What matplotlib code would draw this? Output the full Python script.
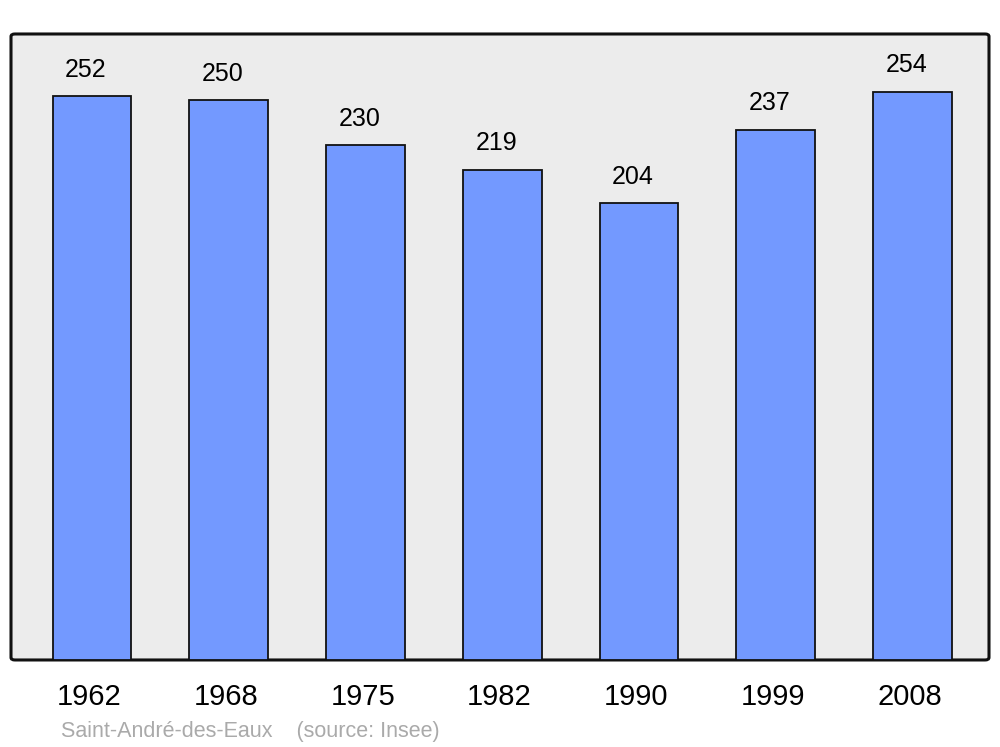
import matplotlib.pyplot as plt
from matplotlib.patches import FancyBboxPatch

years = ['1962', '1968', '1975', '1982', '1990', '1999', '2008']
population = [252, 250, 230, 219, 204, 237, 254]

plt.rcParams['font.family'] = ['Liberation Sans', 'DejaVu Sans']

fig = plt.figure(figsize=(10, 7.47), dpi=100)
ax = fig.add_axes([0.011, 0.1165, 0.978, 0.838])
ax.set_facecolor('none')

# rounded grey frame
frame = FancyBboxPatch((0, 0), 1, 1, boxstyle='round,pad=0,rounding_size=0.004',
                       transform=ax.transAxes, facecolor='#ececec',
                       edgecolor='#111111', linewidth=2.2, zorder=0, clip_on=False)
ax.add_patch(frame)

x = range(len(years))
ax.bar(x, population, width=0.575, color='#7399ff', edgecolor='#111111',
       linewidth=1.3, zorder=2)

for i, v in enumerate(population):
    ax.annotate(str(v), (i, v), xytext=(-4.3, 19), textcoords='offset points',
                ha='center', va='center', fontsize=18)

for i, y in enumerate(years):
    ax.annotate(y, (i, 0), xytext=(-2, -26.5), textcoords='offset points',
                ha='center', va='center', fontsize=21, annotation_clip=False)

ax.set_xlim(-0.592, 6.56)
ax.set_ylim(0, 279.7)
ax.set_xticks([])
ax.set_yticks([])
for s in ax.spines.values():
    s.set_visible(False)

fig.text(0.061, (747 - 731) / 747, 'Saint-André-des-Eaux    (source: Insee)',
         color='#aaaaaa', fontsize=15.5, ha='left', va='center')

fig.savefig('out.png', dpi=100)
